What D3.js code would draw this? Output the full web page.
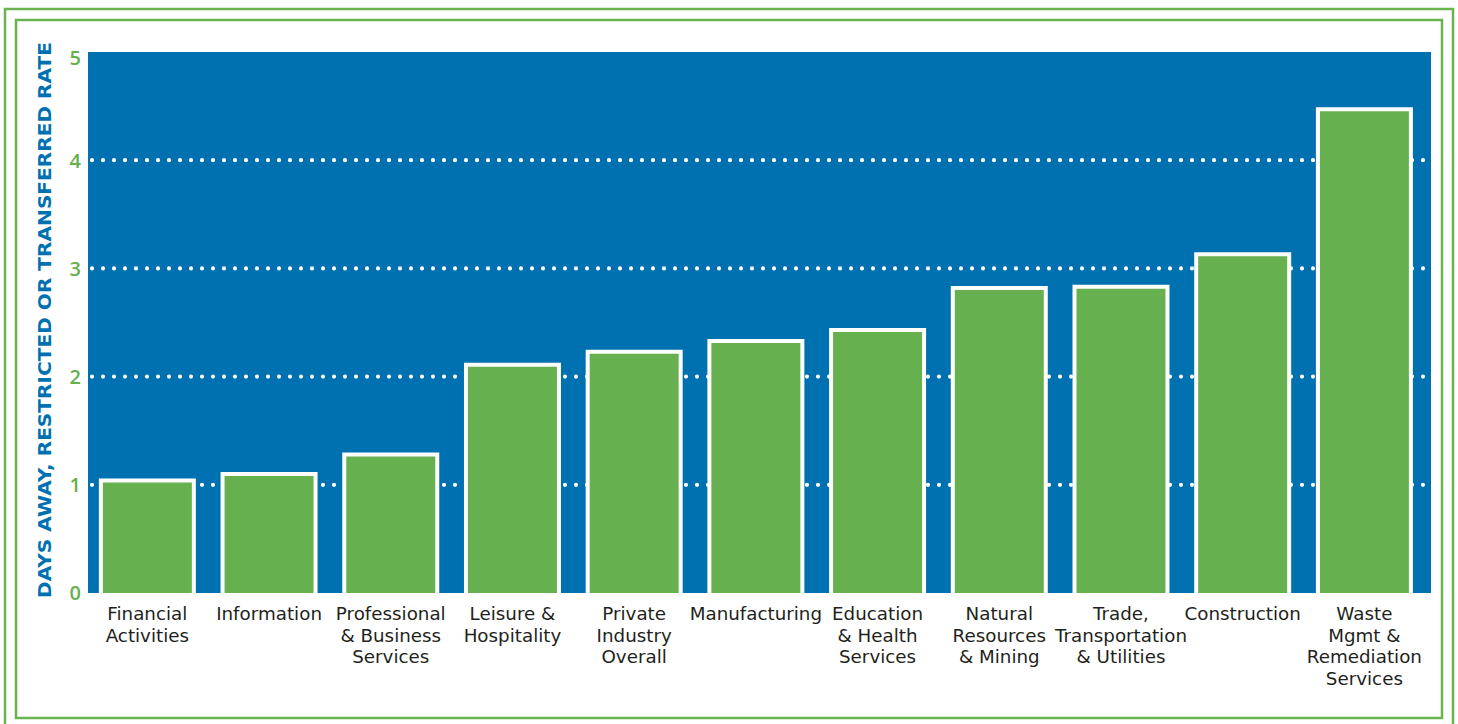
<!DOCTYPE html>
<html><head><meta charset="utf-8">
<script src="https://cdn.jsdelivr.net/npm/d3@7"></script>
<style>html,body{margin:0;padding:0;background:#fff;}svg{display:block;}</style>
</head><body>
<svg id="chart" width="1458" height="724"></svg>
<script>
const categories = [
  ["Financial","Activities"],
  ["Information"],
  ["Professional","& Business","Services"],
  ["Leisure &","Hospitality"],
  ["Private","Industry","Overall"],
  ["Manufacturing"],
  ["Education","& Health","Services"],
  ["Natural","Resources","& Mining"],
  ["Trade,","Transportation","& Utilities"],
  ["Construction"],
  ["Waste","Mgmt &","Remediation","Services"]
];
const values = [1.04, 1.10, 1.28, 2.11, 2.23, 2.33, 2.43, 2.82, 2.83, 3.13, 4.47];
const yTicks = [0, 1, 2, 3, 4, 5];
const gridTicks = [1, 2, 3, 4];
const yTitle = "DAYS AWAY, RESTRICTED OR TRANSFERRED RATE";

const svg = d3.select("#chart");
const GREEN = "#66b04f", BLUE = "#0071b0", BORDER = "#6ab44f";

// double border frame
svg.append("rect").attr("x",5).attr("y",9).attr("width",1448).attr("height",724).attr("fill","none").attr("stroke",BORDER).attr("stroke-width",2.5);
svg.append("rect").attr("x",16).attr("y",20).attr("width",1426).attr("height",698).attr("fill","none").attr("stroke",BORDER).attr("stroke-width",2.5);

const pL = 88, pR = 1431, pT = 52, pB = 593;
const x = d3.scaleBand().domain(d3.range(categories.length)).range([pL, pR]).paddingInner(0.236).paddingOuter(0.1355).align(0.39);
const y = d3.scaleLinear().domain([0, 5]).range([pB, pT]);

svg.append("rect").attr("x",pL).attr("y",pT).attr("width",pR-pL).attr("height",pB-pT).attr("fill",BLUE);

// dotted gridlines
svg.append("g").selectAll("line").data(gridTicks).join("line")
  .attr("x1", pL+4).attr("x2", pR)
  .attr("y1", d => y(d)).attr("y2", d => y(d))
  .attr("stroke","#fff").attr("stroke-width",4.2).attr("stroke-linecap","round").attr("stroke-dasharray","0 11");

// bars (no bottom stroke)
svg.append("g").selectAll("path").data(values).join("path")
  .attr("d", (d,i) => {
    const x0 = x(i), w = x.bandwidth();
    return `M${x0},${y(0)}V${y(d)}H${x0+w}V${y(0)}`;
  })
  .attr("fill", GREEN).attr("stroke","#fff").attr("stroke-width",4);

// y axis tick labels
const yAxis = d3.axisLeft(y).tickValues(yTicks).tickSize(0).tickPadding(0).tickFormat(d3.format("d"));
const yg = svg.append("g").attr("transform",`translate(${81},0)`).call(yAxis);
yg.select(".domain").remove();
yg.selectAll("text").attr("fill",GREEN).attr("font-family","'Open Sans', sans-serif").attr("font-size",20).attr("font-weight","600")
  .attr("dy", d => d === 5 ? "0.6em" : "0.34em");

// y title
svg.append("text").attr("transform",`translate(51,${(42+598)/2}) rotate(-90)`)
  .attr("text-anchor","middle").attr("fill",BLUE).attr("font-family","DejaVu Sans, sans-serif")
  .attr("font-weight","bold").attr("font-size",17.5).attr("textLength",556).attr("lengthAdjust","spacingAndGlyphs")
  .text(yTitle);

// x category labels
const xg = svg.append("g");
categories.forEach((lines, i) => {
  const t = xg.append("text").attr("x", x(i) + x.bandwidth()/2).attr("y", 620)
    .attr("text-anchor","middle").attr("fill","#231f20")
    .attr("font-family","DejaVu Sans, sans-serif").attr("font-size",18.3);
  lines.forEach((ln, k) => {
    t.append("tspan").attr("x", x(i) + x.bandwidth()/2).attr("dy", k === 0 ? 0 : 21.5).text(ln);
  });
});
</script>
</body></html>
